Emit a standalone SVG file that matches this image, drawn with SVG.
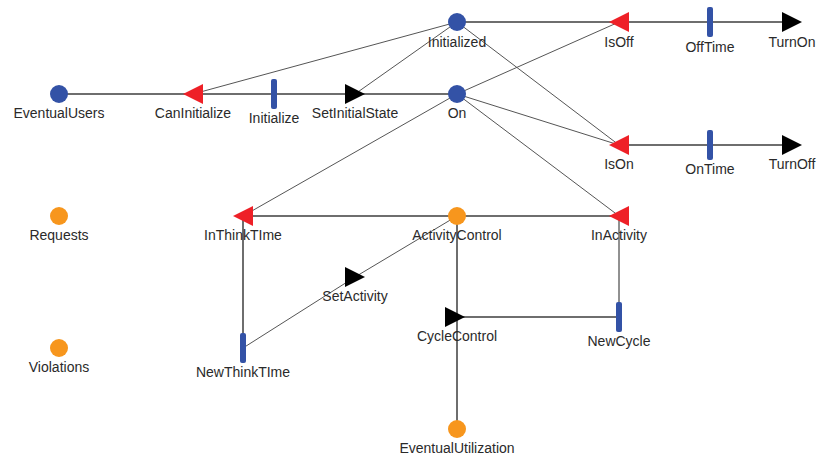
<svg xmlns="http://www.w3.org/2000/svg" width="818" height="457" viewBox="0 0 818 457">
<style>
.e{stroke:#6e6e6e;stroke-width:2;fill:none}
.d{stroke:#555;stroke-width:1;fill:none}
.k{stroke:#222;stroke-width:1;fill:none}
.pb{fill:#3352a6}
.po{fill:#f7961d}
.tr{fill:#ee2027}
.tb{fill:#000}
.bar{fill:#3352a6}
text{font-family:"Liberation Sans",Arial,sans-serif;font-size:14px;fill:#2a2a2a;text-anchor:middle}
</style>
<defs>
<polygon id="tl" points="-10,0 10,-10 10,10"/>
<polygon id="trr" points="10,0 -10,-10 -10,10"/>
<rect id="b" x="-3" y="-15" width="6" height="30" rx="2"/>
</defs>
<rect width="818" height="457" fill="#fff"/>
<g id="connectors">
<line class="e" x1="59" y1="94" x2="457" y2="94"/>
<line class="e" x1="457" y1="22" x2="792" y2="22"/>
<line class="e" x1="619" y1="145" x2="792" y2="145"/>
<line class="e" x1="243" y1="216" x2="619" y2="216"/>
<line class="e" x1="243" y1="216" x2="243" y2="348"/>
<line class="e" x1="457" y1="216" x2="457" y2="429"/>
<line class="e" x1="457" y1="317" x2="619" y2="317"/>
<line class="k" x1="619" y1="216" x2="619" y2="317"/>
<line class="d" x1="457" y1="22" x2="193" y2="94"/>
<line class="d" x1="457" y1="22" x2="355" y2="94"/>
<line class="d" x1="457" y1="22" x2="619" y2="145"/>
<line class="d" x1="457" y1="94" x2="619" y2="22"/>
<line class="d" x1="457" y1="94" x2="619" y2="145"/>
<line class="d" x1="457" y1="94" x2="243" y2="216"/>
<line class="d" x1="457" y1="94" x2="619" y2="216"/>
<line class="d" x1="243" y1="348" x2="355" y2="277"/>
<line class="d" x1="457" y1="216" x2="355" y2="277"/>
</g>
<g id="EventualUsers"><circle class="pb" cx="59" cy="94" r="9"/><text x="59" y="118">EventualUsers</text></g>
<g id="CanInitialize"><use href="#tl" class="tr" x="193" y="94"/><text x="193" y="118">CanInitialize</text></g>
<g id="Initialize"><use href="#b" class="bar" x="274" y="94"/><text x="274" y="123">Initialize</text></g>
<g id="SetInitialState"><use href="#trr" class="tb" x="355" y="94"/><text x="355" y="118">SetInitialState</text></g>
<g id="On"><circle class="pb" cx="457" cy="94" r="9"/><text x="457" y="118">On</text></g>
<g id="Initialized"><circle class="pb" cx="457" cy="22" r="9"/><text x="457" y="47">Initialized</text></g>
<g id="IsOff"><use href="#tl" class="tr" x="619" y="22"/><text x="619" y="47">IsOff</text></g>
<g id="OffTime"><use href="#b" class="bar" x="710" y="22"/><text x="710" y="52">OffTime</text></g>
<g id="TurnOn"><use href="#trr" class="tb" x="792" y="22"/><text x="792" y="47">TurnOn</text></g>
<g id="IsOn"><use href="#tl" class="tr" x="619" y="145"/><text x="619" y="169">IsOn</text></g>
<g id="OnTime"><use href="#b" class="bar" x="710" y="145"/><text x="710" y="174">OnTime</text></g>
<g id="TurnOff"><use href="#trr" class="tb" x="792" y="145"/><text x="792" y="169">TurnOff</text></g>
<g id="Requests"><circle class="po" cx="59" cy="216" r="9"/><text x="59" y="240">Requests</text></g>
<g id="InThinkTIme"><use href="#tl" class="tr" x="243" y="216"/><text x="243" y="240">InThinkTIme</text></g>
<g id="ActivityControl"><circle class="po" cx="457" cy="216" r="9"/><text x="457" y="240">ActivityControl</text></g>
<g id="InActivity"><use href="#tl" class="tr" x="619" y="216"/><text x="619" y="240">InActivity</text></g>
<g id="SetActivity"><use href="#trr" class="tb" x="355" y="277"/><text x="355" y="301">SetActivity</text></g>
<g id="Violations"><circle class="po" cx="59" cy="348" r="9"/><text x="59" y="372">Violations</text></g>
<g id="NewThinkTIme"><use href="#b" class="bar" x="243" y="348"/><text x="243" y="377">NewThinkTIme</text></g>
<g id="CycleControl"><use href="#trr" class="tb" x="455" y="317"/><text x="457" y="341">CycleControl</text></g>
<g id="NewCycle"><use href="#b" class="bar" x="619" y="317"/><text x="619" y="346">NewCycle</text></g>
<g id="EventualUtilization"><circle class="po" cx="457" cy="429" r="9"/><text x="457" y="453">EventualUtilization</text></g>
</svg>
